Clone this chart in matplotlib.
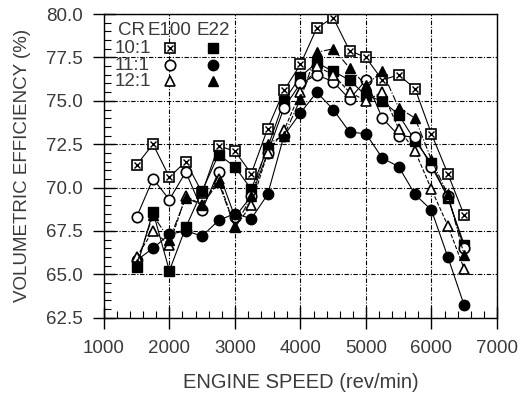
import numpy as np
import matplotlib
matplotlib.use("Agg")
import matplotlib.pyplot as plt
from matplotlib.ticker import MultipleLocator, FormatStrFormatter

plt.rcParams["font.family"] = ["Liberation Sans", "DejaVu Sans"]

# engine speed (rev/min)
speed = [1500, 1750, 2000, 2250, 2500, 2750, 3000, 3250, 3500, 3750, 4000,
         4250, 4500, 4750, 5000, 5250, 5500, 5750, 6000, 6250, 6500]

# volumetric efficiency (%)
e100_10 = [71.3, 72.5, 70.6, 71.5, 69.7, 72.4, 72.1, 70.8, 73.4, 75.6, 77.1,
           79.2, 79.8, 77.9, 77.5, 76.2, 76.5, 75.7, 73.1, 70.8, 68.4]
e22_10 = [65.4, 68.6, 65.2, 67.7, 69.8, 71.9, 71.2, 69.9, 72.3, 75.0, 76.4,
          77.2, 76.7, 76.2, 75.3, 75.0, 74.2, 72.7, 71.4, 69.4, 66.7]
e100_11 = [68.3, 70.5, 69.3, 70.9, 68.7, 70.9, 68.3, 69.5, 72.0, 74.6, 76.0,
           76.5, 76.1, 75.1, 76.2, 74.0, 73.0, 72.9, 71.2, 69.5, 66.5]
e22_11 = [65.8, 66.5, 67.3, 67.5, 67.2, 68.1, 68.5, 68.2, 69.6, 73.0, 74.3,
          75.5, 74.5, 73.2, 73.1, 71.7, 71.2, 69.6, 68.7, 66.0, 63.2]
e100_12 = [66.0, 67.5, 66.7, 69.5, 69.0, 70.5, 67.7, 69.0, 72.0, 73.3, 75.5,
           77.0, 76.5, 75.5, 75.0, 75.5, 73.4, 72.1, 69.9, 67.8, 65.3]
e22_12 = [65.6, 68.4, 67.0, 69.4, 69.0, 70.3, 67.7, 69.5, 72.5, 73.0, 75.1,
          77.8, 78.0, 76.9, 75.9, 76.7, 74.6, 74.0, 71.6, 69.6, 66.1]

txt = "#3a3a3a"
fig = plt.figure(figsize=(5.22, 3.93), dpi=100)
ax = fig.add_axes([0.199, 0.192, 0.753, 0.772])

ms = 7.5
lw = 0.8

def boxed_x(ax, x, y, ls="-", **kw):
    ax.plot(x, y, ls, color="black", lw=lw, marker="s", ms=ms,
            mfc="white", mec="black", mew=1.2, **kw)
    ax.plot(x, y, ls="none", marker="x", ms=ms * 0.55, mec="black", mew=1.0, **kw)

boxed_x(ax, speed, e100_10)
ax.plot(speed, e22_10, "-", color="black", lw=lw, marker="s", ms=ms, mfc="black", mec="black")
ax.plot(speed, e100_11, "-", color="black", lw=lw, marker="o", ms=ms, mfc="white", mec="black", mew=1.2)
ax.plot(speed, e22_11, "-", color="black", lw=lw, marker="o", ms=ms, mfc="black", mec="black")
ax.plot(speed, e100_12, "--", color="black", lw=lw, marker="^", ms=ms, mfc="white", mec="black", mew=1.2)
ax.plot(speed, e22_12, "-.", color="black", lw=lw, marker="^", ms=ms, mfc="black", mec="black")

ax.set_xlim(1000, 7000)
ax.set_ylim(62.5, 80.0)
ax.xaxis.set_major_locator(MultipleLocator(1000))
ax.xaxis.set_minor_locator(MultipleLocator(200))
ax.yaxis.set_major_locator(MultipleLocator(2.5))
ax.yaxis.set_minor_locator(MultipleLocator(0.5))
ax.yaxis.set_major_formatter(FormatStrFormatter("%.1f"))
ax.tick_params(which="major", direction="inout", length=16, width=1.0,
               labelsize=13.5, labelcolor=txt, pad=6)
ax.tick_params(axis="x", which="major", pad=8)
ax.tick_params(axis="y", which="major", pad=7)
ax.tick_params(which="minor", direction="in", length=5, width=0.8)
ax.grid(True, which="major", ls=(0, (4, 1.5, 1, 1.5)), color="black", lw=0.8)
ax.set_axisbelow(True)
for s in ax.spines.values():
    s.set_linewidth(1.0)

ax.set_xlabel("ENGINE SPEED (rev/min)", fontsize=14.5, color=txt, labelpad=12)
ax.set_ylabel("VOLUMETRIC EFFICIENCY (%)", fontsize=13.5, color=txt, labelpad=11)

# legend table
def fx(px):
    return (px - 104) / 393.0

def fy(py):
    return (317.5 - py) / 303.5

lab_kw = dict(transform=ax.transAxes, fontsize=13.5, color=txt, va="center")
ax.text(fx(118), fy(30), "CR", ha="left", **lab_kw)
ax.text(fx(170), fy(30), "E100", ha="center", **lab_kw)
ax.text(fx(213), fy(30), "E22", ha="center", **lab_kw)
rows = ["10:1", "11:1", "12:1"]
row_y = [48, 65, 81]
for r, yy in zip(rows, row_y):
    ax.text(fx(115), fy(yy), r, ha="left", **lab_kw)
mk = dict(transform=ax.transAxes, ls="none", ms=ms, mec="black", clip_on=False)
ax.plot([fx(170)], [fy(row_y[0])], marker="s", mfc="white", mew=1.2, **mk)
ax.plot([fx(170)], [fy(row_y[0])], marker="x", ms=ms * 0.55, mec="black", mew=1.0,
        transform=ax.transAxes, ls="none")
ax.plot([fx(213)], [fy(row_y[0])], marker="s", mfc="black", **mk)
ax.plot([fx(170)], [fy(row_y[1])], marker="o", mfc="white", mew=1.2, **mk)
ax.plot([fx(213)], [fy(row_y[1])], marker="o", mfc="black", **mk)
ax.plot([fx(170)], [fy(row_y[2])], marker="^", mfc="white", mew=1.2, **mk)
ax.plot([fx(213)], [fy(row_y[2])], marker="^", mfc="black", **mk)

fig.savefig("out.png", dpi=100)
